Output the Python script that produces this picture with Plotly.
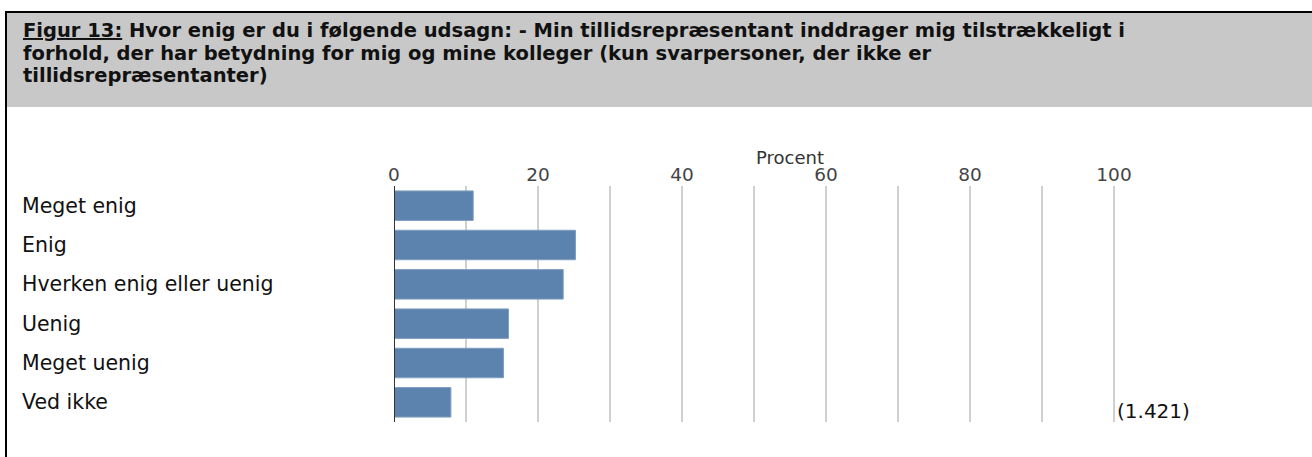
import plotly.graph_objects as go

categories = ["Meget enig", "Enig", "Hverken enig eller uenig", "Uenig", "Meget uenig", "Ved ikke"]
values = [11.0, 25.2, 23.5, 15.9, 15.2, 7.9]
tick_vals = [0, 20, 40, 60, 80, 100]
grid_vals = [10, 20, 30, 40, 50, 60, 70, 80, 90, 100]
n_label = "(1.421)"
axis_title = "Procent"
title_lines = [
    "<u>Figur 13:</u> Hvor enig er du i følgende udsagn: - Min tillidsrepræsentant inddrager mig tilstrækkeligt i",
    "forhold, der har betydning for mig og mine kolleger (kun svarpersoner, der ikke er",
    "tillidsrepræsentanter)",
]

W, H = 1312, 457
L = 394
T = 186
plot_w = 792
plot_h = 236
R = W - L - plot_w
B = H - T - plot_h


def px(xr):
    return (xr - L) / plot_w


def py(yr):
    return 1 - (yr - T) / plot_h


fig = go.Figure()
fig.add_trace(go.Bar(
    x=values, y=categories, orientation="h",
    marker=dict(color="#5b83ad", line=dict(color="#7f9fc0", width=1)),
    width=0.75, hoverinfo="x+y",
))

shapes = []
shapes.append(dict(type="rect", xref="paper", yref="paper",
                   x0=px(7), x1=px(1320), y0=py(107), y1=py(12),
                   fillcolor="#c8c8c8", line=dict(width=0), layer="below"))
shapes.append(dict(type="line", xref="paper", yref="paper",
                   x0=px(5), x1=px(1320), y0=py(12), y1=py(12),
                   line=dict(color="black", width=2)))
shapes.append(dict(type="line", xref="paper", yref="paper",
                   x0=px(6), x1=px(6), y0=py(470), y1=py(11),
                   line=dict(color="black", width=2)))
for g in grid_vals:
    shapes.append(dict(type="line", xref="x", yref="paper", x0=g, x1=g, y0=0, y1=1,
                       line=dict(color="#a0a0a0", width=1), layer="below"))
shapes.append(dict(type="line", xref="x", yref="paper", x0=0, x1=0, y0=0, y1=1,
                   line=dict(color="#333333", width=2)))

annotations = []
for i, line in enumerate(title_lines):
    annotations.append(dict(text="<b>" + line + "</b>", xref="paper", yref="paper",
                            x=px(21), y=py(30 + 23 * i), xanchor="left", yanchor="middle",
                            align="left", showarrow=False,
                            font=dict(family="DejaVu Sans", size=19.5, color="#111111")))
annotations.append(dict(text=axis_title, xref="paper", yref="paper", x=0.5, y=py(157),
                        xanchor="center", yanchor="middle", showarrow=False,
                        font=dict(family="DejaVu Sans", size=18, color="#333333")))
annotations.append(dict(text=n_label, xref="x", yref="y", x=100, y=categories[-1],
                        xanchor="left", yanchor="middle", xshift=1, yshift=-9,
                        showarrow=False,
                        font=dict(family="DejaVu Sans", size=20, color="#111111")))
for c in categories:
    annotations.append(dict(text=c, xref="paper", yref="y", x=px(20), y=c,
                            xanchor="left", yanchor="middle", showarrow=False,
                            font=dict(family="DejaVu Sans", size=20.5, color="#111111")))

fig.update_layout(
    width=W, height=H,
    margin=dict(l=L, r=R, t=T, b=B, pad=0),
    paper_bgcolor="white", plot_bgcolor="white",
    showlegend=False, bargap=0.25,
    shapes=shapes, annotations=annotations,
    xaxis=dict(side="top", range=[0, 110], tickvals=tick_vals, showgrid=False,
               zeroline=False, showline=False, ticks="", ticklabelstandoff=0,
               tickfont=dict(family="DejaVu Sans", size=18.5, color="#444444")),
    yaxis=dict(categoryorder="array", categoryarray=categories[::-1],
               range=[-0.5, 5.5], showticklabels=False, showgrid=False,
               zeroline=False, showline=False, ticks=""),
)

fig.write_html("out.html", config={"displayModeBar": False},
               post_script="document.body.style.margin='0';")
